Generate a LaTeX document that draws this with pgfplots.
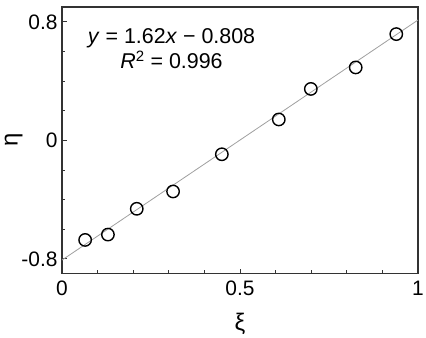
\documentclass[border=0pt]{standalone}
\usepackage{fontspec}
\setmainfont{Liberation Sans}
\usepackage{pgfplots}
\pgfplotsset{compat=1.18}
\begin{document}
\begin{tikzpicture}
\begin{axis}[
  at={(0,0)}, anchor=south west,
  scale only axis,
  width=356bp, height=266.7bp,
  xmin=0, xmax=1, ymin=-0.9, ymax=0.9,
  xtick={0,0.5,1}, xticklabels={0,0.5,1},
  ytick={-0.8,0,0.8}, yticklabels={-0.8,0,0.8},
  minor xtick={0.1,0.2,0.3,0.4,0.6,0.7,0.8,0.9},
  minor ytick={-0.6,-0.4,-0.2,0.2,0.4,0.6},
  tick align=inside,
  xtick pos=bottom, ytick pos=left,
  major tick length=5bp, minor tick length=3.5bp,
  every tick/.style={black!80, line width=0.8bp},
  axis line style={black!80, line width=1.5bp},
  tick label style={font=\fontsize{21}{25}\selectfont},
  xticklabel style={yshift=-4bp},
  yticklabel style={xshift=-1bp},
  xlabel={ξ}, ylabel={η},
  xlabel style={at={(axis description cs:0.5,-0.19)}, anchor=center, font=\fontsize{24}{28}\selectfont},
  ylabel style={at={(axis description cs:-0.136,0.5)}, anchor=center, font=\fontsize{24}{28}\selectfont},
  clip=false,
]
\addplot[gray!75, line width=0.8bp, no marks] coordinates {(0,-0.808) (1,0.812)};
\addplot[only marks, mark=o, mark size=6.2bp, mark options={black, line width=1.4bp, fill=white}] coordinates {
(0.065,-0.672) (0.129,-0.636) (0.210,-0.462) (0.312,-0.345) (0.449,-0.094)
(0.609,0.141) (0.699,0.347) (0.825,0.492) (0.939,0.717)};
\node[anchor=base, font=\fontsize{21.5}{25}\selectfont] at (axis cs:0.3076,0.652) {\textit{y} = 1.62\textit{x} − 0.808};
\node[anchor=base, font=\fontsize{21.5}{25}\selectfont] at (axis cs:0.3076,0.484) {\textit{R}\textsuperscript{2} = 0.996};
\end{axis}
\pgfresetboundingbox
\path (-62bp,-64.3bp) rectangle (364bp,273.7bp);
\end{tikzpicture}
\end{document}
